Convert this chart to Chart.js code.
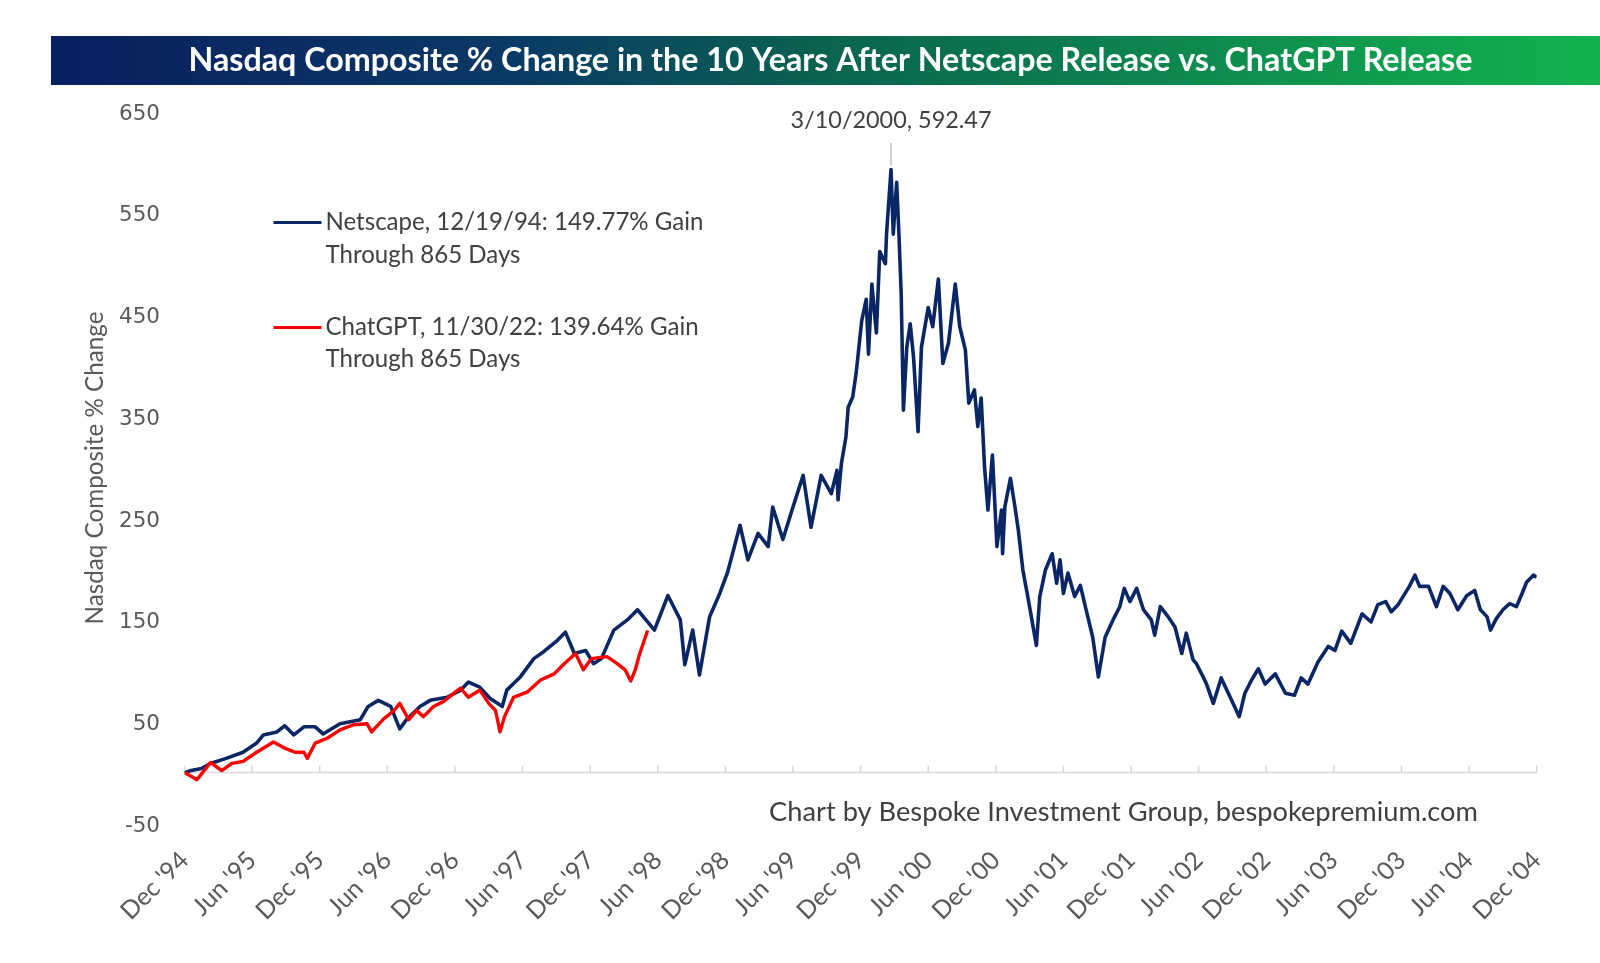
<!DOCTYPE html>
<html><head><meta charset="utf-8">
<script src="https://cdn.jsdelivr.net/npm/chart.js@4.4.0/dist/chart.umd.min.js"></script>
<style>html,body{margin:0;padding:0;background:#fff;}#wrap{width:1600px;height:963px;}</style>
</head><body><div id="wrap"><canvas id="c" width="1600" height="963"></canvas></div>
<script>
// ---- data (months after 12/19/94 release date, % change) ----
const netMonths = [0,0.6,1.5,2.3,3.7,5.2,6.4,7.0,8.2,8.9,9.7,10.6,11.6,12.3,13.8,15.6,16.3,17.2,18.3,19.1,19.7,20.9,21.8,23.3,24.5,25.2,26.2,27.1,28.2,28.6,29.8,31.0,31.9,33.1,33.8,34.6,35.6,36.3,37.0,38.1,39.3,40.2,41.1,41.7,42.9,44.0,44.4,45.1,45.7,46.6,47.5,48.2,48.8,49.3,50.0,50.9,51.8,52.2,53.1,54.0,54.9,55.6,56.5,57.4,57.9,58.0,58.3,58.7,58.9,59.3,59.6,60.1,60.5,60.7,61.0,61.4,61.7,62.2,62.3,62.7,62.9,63.2,63.4,63.6,63.8,64.1,64.4,64.7,65.1,65.4,66.0,66.4,66.9,67.3,67.8,68.4,68.8,69.3,69.6,70.1,70.4,70.7,71.0,71.3,71.7,72.1,72.5,72.6,72.8,73.3,73.7,74.0,74.4,74.9,75.2,75.6,75.9,76.4,77.0,77.4,77.7,78.0,78.4,79.0,79.5,80.1,80.6,81.1,81.7,82.4,83.0,83.4,83.9,84.5,85.1,85.8,86.1,86.6,87.3,87.9,88.5,88.9,89.5,89.8,90.4,90.7,91.3,92.0,92.8,93.6,94.1,94.7,95.3,95.9,96.8,97.7,98.5,99.1,99.7,100.6,101.5,102.1,102.7,103.5,104.5,105.3,105.9,106.6,107.1,107.7,108.7,109.2,109.6,110.4,111.1,111.7,112.3,113.0,113.8,114.5,115.0,115.6,115.9,116.4,117.0,117.6,118.2,118.7,119.1,119.7,120.0];
const netValues = [0,2,4,9,14,20,29,37,40,46,37,45,45,38,48,52,65,71,65,43,52,65,71,74,81,89,84,73,65,81,94,112,119,130,138,117,120,107,112,140,150,160,148,140,174,150,106,140,96,153,176,197,222,243,209,235,222,261,229,261,292,241,292,274,297,268,304,330,359,369,392,444,465,411,480,432,512,500,529,592.47,529,580,529,471,356,418,441,408,335,418,457,438,485,402,422,480,438,415,363,376,340,368,300,258,312,222,258,215,261,289,261,238,199,169,150,125,173,199,215,186,209,176,196,173,184,156,133,94,133,150,163,181,168,181,160,150,135,163,153,143,117,137,111,107,94,87,68,93,74,55,78,91,102,87,97,78,76,93,87,109,124,120,139,127,156,148,165,168,158,165,183,194,183,183,163,183,176,160,174,179,160,153,140,151,160,166,163,176,187,194,192];
const gptMonths = [0,0.5,1.1,1.6,2.3,2.8,3.3,4.2,5.2,6.4,7.9,8.9,9.8,10.6,10.9,11.6,12.7,13.8,15.0,16.2,16.6,17.7,18.6,19.1,19.9,20.6,21.2,22.1,23.0,23.9,24.5,25.2,26.2,27.0,27.6,28.0,28.4,29.2,30.4,31.6,32.8,33.7,34.7,35.4,36.1,37.5,38.4,39.1,39.6,40.0,40.4,41.1];
const gptValues = [0,-3,-7,0,10,6,2,9,11,20,30,24,20,20,14,29,34,42,47,48,40,53,61,68,52,61,55,65,70,78,83,74,81,68,61,40,55,74,79,91,97,107,117,101,112,114,107,101,90,101,117,139.64];
const xTickLabels = ["Dec '94","Jun '95","Dec '95","Jun '96","Dec '96","Jun '97","Dec '97","Jun '98","Dec '98","Jun '99","Dec '99","Jun '00","Dec '00","Jun '01","Dec '01","Jun '02","Dec '02","Jun '03","Dec '03","Jun '04","Dec '04"];
const titleText = "Nasdaq Composite % Change in the 10 Years After Netscape Release vs. ChatGPT Release";
const yTitle = "Nasdaq Composite % Change";
const legendNet = ["Netscape, 12/19/94: 149.77% Gain", "Through 865 Days"];
const legendGpt = ["ChatGPT, 11/30/22: 139.64% Gain", "Through 865 Days"];
const footer = "Chart by Bespoke Investment Group, bespokepremium.com";

const BLUE = '#0b2665', RED = '#ff0000', TXT = '#404040', GRAY = '#595959';
const FAM = 'Lato, "Noto Sans", sans-serif';

const mctx = document.createElement('canvas').getContext('2d');
function fit(text, weight, family, w) { mctx.font = weight + ' 100px ' + family; return 100 * w / mctx.measureText(text).width; }
const xTickSize = fit("Dec '04", 'normal', FAM, 84);
const yTickSize = fit("650", 'normal', '"DejaVu Sans"', 41);

const peakIdx = netValues.indexOf(Math.max(...netValues));
const peakLabel = "3/10/2000, " + netValues[peakIdx].toFixed(2);

const decor = {
  id: 'decor',
  beforeDatasetsDraw(chart) {
    const {ctx, chartArea: a, scales: {x, y}} = chart;
    const y0 = y.getPixelForValue(0);
    ctx.save();
    ctx.strokeStyle = '#d9d9d9'; ctx.lineWidth = 1.5;
    ctx.beginPath(); ctx.moveTo(a.left, y0); ctx.lineTo(a.right, y0);
    x.ticks.forEach(t => { const px = x.getPixelForValue(t.value); ctx.moveTo(px, y0); ctx.lineTo(px, y0 - 7); });
    ctx.stroke();
    ctx.restore();
  },
  afterDraw(chart) {
    const {ctx, scales: {x, y}} = chart;
    ctx.save();
    // title banner
    const g = ctx.createLinearGradient(51, 0, 1600, 0);
    g.addColorStop(0, '#0a1f60'); g.addColorStop(0.3, '#0a3a66'); g.addColorStop(0.5, '#0a634f'); g.addColorStop(1, '#12b34e');
    ctx.fillStyle = g; ctx.fillRect(51, 36, 1549, 49);
    ctx.fillStyle = '#ffffff'; ctx.textAlign = 'center'; ctx.textBaseline = 'middle';
    ctx.font = 'bold ' + fit(titleText, 'bold', FAM, 1284).toFixed(2) + 'px ' + FAM;
    ctx.fillText(titleText, 830.5, 61);
    // y title
    ctx.save(); ctx.translate(95, 468); ctx.rotate(-Math.PI / 2);
    ctx.fillStyle = GRAY; ctx.font = fit(yTitle, 'normal', FAM, 313).toFixed(2) + 'px ' + FAM;
    ctx.fillText(yTitle, 0, 0); ctx.restore();
    // legend
    const lf = fit(legendNet[0], 'normal', FAM, 378).toFixed(2) + 'px ' + FAM;
    ctx.font = lf; ctx.textAlign = 'left'; ctx.fillStyle = TXT;
    [[legendNet, BLUE, 222.5, 255], [legendGpt, RED, 327.5, 359]].forEach(([t, c, y1, y2]) => {
      ctx.strokeStyle = c; ctx.lineWidth = 3; ctx.beginPath(); ctx.moveTo(273.5, y1); ctx.lineTo(321.5, y1); ctx.stroke();
      ctx.fillText(t[0], 325.5, y1); ctx.fillText(t[1], 325.5, y2);
    });
    // peak annotation
    const px = x.getPixelForValue(netMonths[peakIdx]), py = y.getPixelForValue(netValues[peakIdx]);
    ctx.strokeStyle = '#c0c0c0'; ctx.lineWidth = 1.5;
    ctx.beginPath(); ctx.moveTo(px, 143); ctx.lineTo(px, py - 4); ctx.stroke();
    ctx.textAlign = 'center'; ctx.fillStyle = TXT;
    ctx.font = fit(peakLabel, 'normal', FAM, 201).toFixed(2) + 'px ' + FAM;
    ctx.fillText(peakLabel, px, 120.5);
    // footer
    ctx.font = fit(footer, 'normal', FAM, 709).toFixed(2) + 'px ' + FAM;
    ctx.fillText(footer, 1123.5, 812);
    ctx.restore();
  }
};

new Chart(document.getElementById('c'), {
  type: 'line',
  data: {
    datasets: [
      { label: 'ChatGPT', data: gptMonths.map((m, i) => ({x: m, y: gptValues[i]})), borderColor: RED, borderWidth: 3.4, pointRadius: 0, tension: 0, order: 0, borderJoinStyle: 'round' },
      { label: 'Netscape', data: netMonths.map((m, i) => ({x: m, y: netValues[i]})), borderColor: BLUE, borderWidth: 3.6, pointRadius: 0, tension: 0, order: 1, borderJoinStyle: 'round' }
    ]
  },
  options: {
    responsive: false, animation: false, devicePixelRatio: 1,
    layout: { padding: { left: 0, right: 63.3, top: 111, bottom: 0 } },
    plugins: { legend: { display: false }, tooltip: { enabled: false }, title: { display: false } },
    scales: {
      x: {
        type: 'linear', min: 0, max: 120,
        grid: { display: false, drawTicks: false }, border: { display: false },
        afterBuildTicks: s => { s.ticks = xTickLabels.map((l, i) => ({value: i * 6})); },
        afterFit: s => { s.height = 139.5; },
        ticks: { autoSkip: false, maxRotation: 45, minRotation: 45, padding: 22, color: GRAY,
                 font: { family: FAM, size: xTickSize }, callback: (v) => xTickLabels[Math.round(v / 6)] }
      },
      y: {
        min: -50, max: 650,
        grid: { display: false, drawTicks: false }, border: { display: false },
        afterFit: s => { s.width = 184.5; },
        ticks: { stepSize: 100, padding: 24.5, labelOffset: 3, color: GRAY, font: { family: '"DejaVu Sans"', size: yTickSize } }
      }
    }
  },
  plugins: [decor]
});
</script></body></html>
